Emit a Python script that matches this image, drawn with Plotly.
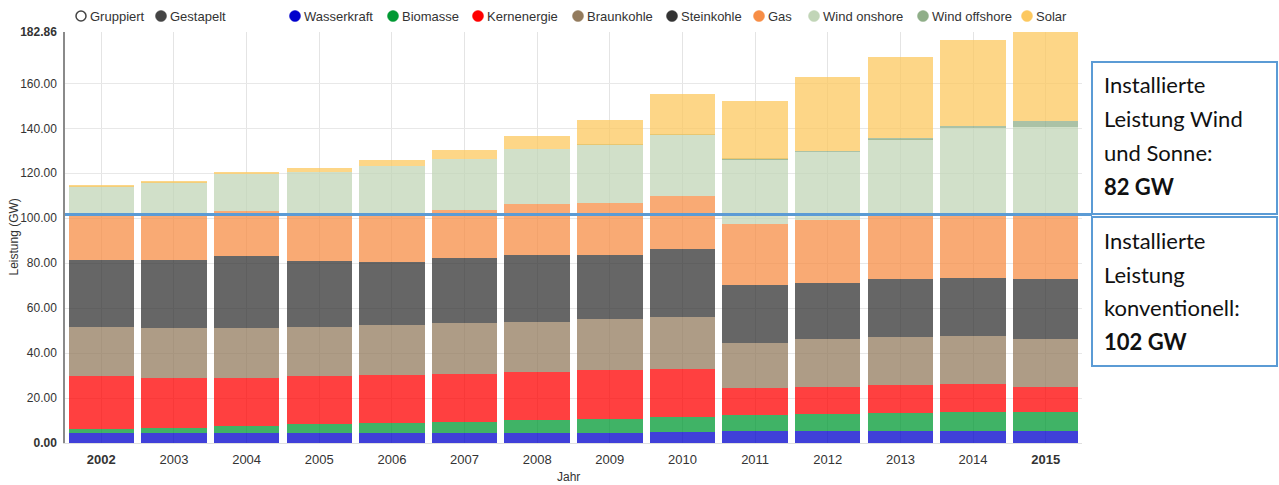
import plotly.graph_objects as go

# ---------------- data ----------------
years = ["2002", "2003", "2004", "2005", "2006", "2007", "2008",
         "2009", "2010", "2011", "2012", "2013", "2014", "2015"]
wasserkraft = [4.3, 4.3, 4.5, 4.5, 4.5, 4.5, 4.4, 4.6, 4.9, 5.3, 5.3, 5.3, 5.3, 5.3]
biomasse = [1.8, 2.5, 2.9, 3.8, 4.5, 5.0, 5.7, 6.2, 6.7, 7.0, 7.6, 7.9, 8.5, 8.5]
kernenergie = [23.7, 22.1, 21.5, 21.5, 21.4, 21.3, 21.5, 21.6, 21.3, 12.1, 12.0, 12.4, 12.3, 11.1]
braunkohle = [21.6, 22.1, 22.1, 21.9, 21.9, 22.7, 22.3, 22.6, 23.0, 20.2, 21.2, 21.4, 21.5, 21.2]
steinkohle = [29.9, 30.6, 32.4, 29.3, 28.1, 29.0, 29.8, 28.7, 30.3, 25.5, 25.3, 25.9, 26.0, 26.8]
gas = [19.7, 19.4, 19.7, 20.5, 21.4, 21.3, 22.8, 23.3, 23.7, 27.4, 27.6, 28.6, 28.9, 28.6]
wind_onshore = [13.2, 15.1, 16.5, 18.9, 21.5, 22.7, 24.3, 25.6, 27.2, 28.8, 30.6, 33.6, 37.5, 39.1]
wind_offshore = [0.0, 0.0, 0.0, 0.0, 0.0, 0.0, 0.0, 0.1, 0.1, 0.2, 0.3, 0.5, 0.9, 2.5]
solar = [0.3, 0.5, 1.1, 2.1, 2.5, 3.7, 5.7, 10.9, 18.2, 25.5, 32.9, 36.1, 38.5, 39.7]

series_names = ["Wasserkraft", "Biomasse", "Kernenergie", "Braunkohle", "Steinkohle",
                "Gas", "Wind onshore", "Wind offshore", "Solar"]
series_values = [wasserkraft, biomasse, kernenergie, braunkohle, steinkohle,
                 gas, wind_onshore, wind_offshore, solar]

y_ticks = [0, 20, 40, 60, 80, 100, 120, 140, 160, 182.86]
y_max = 182.86
threshold = 101.7   # boundary line conventional / wind+solar

# ---------------- styles ----------------
colors = ["#0000cc", "#009933", "#ff0000", "#937b5d", "#333333",
          "#f78d45", "#c1d5b7", "#8fae88", "#fcc85f"]
legend_px = [295, 393, 478, 578, 672, 759, 814, 923, 1027]  # legend circle centres (px)

W, H = 1279, 485
ML, MR, MT, MB = 65, 197, 32, 42
PW, PH = W - ML - MR, H - MT - MB


def px_x(px):
    return (px - ML) / PW


def px_y(py):
    return (H - MB - py) / PH


fig = go.Figure()
for name, vals, col in zip(series_names, series_values, colors):
    fig.add_trace(go.Bar(
        x=years, y=vals, name=name,
        marker=dict(color=col, opacity=0.75, line=dict(width=0)),
        showlegend=False,
    ))

FONT = "Liberation Sans, Arial, sans-serif"
tick_font = dict(family=FONT, size=12, color="#333333")

ytext = []
for v in y_ticks:
    s = f"{v:.2f}"
    ytext.append(f"<b>{s}</b>" if v in (0, y_max) else s)
xtext = [f"<b>{y}</b>" if i in (0, len(years) - 1) else y for i, y in enumerate(years)]

fig.update_layout(
    width=W, height=H,
    margin=dict(l=ML, r=MR, t=MT, b=MB),
    barmode="stack", bargap=0.1,
    plot_bgcolor="white", paper_bgcolor="white",
    font=tick_font,
    xaxis=dict(
        type="category", tickvals=years, ticktext=xtext,
        showgrid=True, gridcolor="#e4e4e4", gridwidth=1,
        showline=True, linecolor="#e0e0e0", linewidth=1,
        ticks="", ticklabelstandoff=4, tickfont=dict(size=13, color="#333333"),
        zeroline=False,
    ),
    yaxis=dict(
        range=[0, y_max], tickvals=y_ticks, ticktext=ytext,
        showgrid=True, gridcolor="#e8e8e8", gridwidth=1,
        showline=True, linecolor="#8a8a8a", linewidth=1.5,
        ticks="", ticklabelstandoff=4, zeroline=False,
        tickfont=dict(size=12, color="#333333"),
    ),
)

shapes = []
annotations = []

# boundary line
shapes.append(dict(type="line", xref="paper", yref="y",
                   x0=0, x1=px_x(1092), y0=threshold, y1=threshold,
                   line=dict(color="#5b9bd5", width=3), layer="above"))

# boxes
box_col = "#5b9bd5"
shapes.append(dict(type="rect", xref="paper", yref="paper",
                   x0=px_x(1092), x1=px_x(1277), y0=px_y(214), y1=px_y(62),
                   line=dict(color=box_col, width=2), fillcolor="rgba(0,0,0,0)"))
shapes.append(dict(type="rect", xref="paper", yref="paper",
                   x0=px_x(1092), x1=px_x(1277), y0=px_y(366), y1=px_y(217),
                   line=dict(color=box_col, width=2), fillcolor="rgba(0,0,0,0)"))

box_lines = [("Installierte", 85), ("Leistung Wind", 119), ("und Sonne:", 152),
             ("<b>82 GW</b>", 186),
             ("Installierte", 241), ("Leistung", 274), ("konventionell:", 307),
             ("<b>102 GW</b>", 341)]
for txt, py in box_lines:
    annotations.append(dict(text=txt, xref="paper", yref="paper",
                            x=px_x(1102), y=px_y(py), xanchor="left", yanchor="middle",
                            showarrow=False,
                            font=dict(family="Lato, Noto Sans, sans-serif", size=22, color="#111111")))

# legend (NVD3 style circles)
leg_y = px_y(16)
leg_font = dict(family=FONT, size=13, color="#333333")
for name, col, cx in zip(series_names, colors, legend_px):
    shapes.append(dict(type="circle", xref="paper", yref="paper",
                       xsizemode="pixel", ysizemode="pixel",
                       xanchor=px_x(cx), yanchor=leg_y,
                       x0=-5.5, x1=5.5, y0=-5.5, y1=5.5,
                       line=dict(color=col, width=0.5), fillcolor=col))
    annotations.append(dict(text=name, xref="paper", yref="paper",
                            x=px_x(cx + 7), y=leg_y, xanchor="left", yanchor="middle",
                            showarrow=False, font=leg_font))

# controls "Gruppiert" / "Gestapelt"
shapes.append(dict(type="circle", xref="paper", yref="paper",
                   xsizemode="pixel", ysizemode="pixel",
                   xanchor=px_x(81), yanchor=leg_y, x0=-5, x1=5, y0=-5, y1=5,
                   line=dict(color="#444444", width=1.5), fillcolor="white"))
annotations.append(dict(text="Gruppiert", xref="paper", yref="paper",
                        x=px_x(88), y=leg_y, xanchor="left", yanchor="middle",
                        showarrow=False, font=leg_font))
shapes.append(dict(type="circle", xref="paper", yref="paper",
                   xsizemode="pixel", ysizemode="pixel",
                   xanchor=px_x(161), yanchor=leg_y, x0=-5.5, x1=5.5, y0=-5.5, y1=5.5,
                   line=dict(color="#444444", width=0.5), fillcolor="#444444"))
annotations.append(dict(text="Gestapelt", xref="paper", yref="paper",
                        x=px_x(168), y=leg_y, xanchor="left", yanchor="middle",
                        showarrow=False, font=leg_font))

# axis titles
annotations.append(dict(text="Leistung (GW)", xref="paper", yref="paper",
                        x=px_x(13), y=0.5, xanchor="center", yanchor="middle",
                        textangle=-90, showarrow=False,
                        font=dict(family=FONT, size=12, color="#333333")))
annotations.append(dict(text="Jahr", xref="paper", yref="paper",
                        x=px_x(568), y=px_y(477), xanchor="center", yanchor="middle",
                        showarrow=False,
                        font=dict(family=FONT, size=12, color="#333333")))

fig.update_layout(shapes=shapes, annotations=annotations)
fig.write_html("out.html",
               config={"displayModeBar": False},
               post_script="document.body.style.margin='0';document.body.style.overflow='hidden';")
